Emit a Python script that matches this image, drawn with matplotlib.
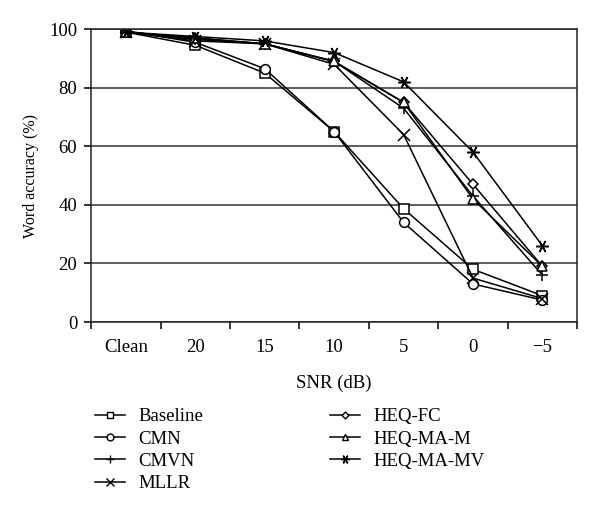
import numpy as np
import matplotlib.pyplot as plt
from matplotlib.lines import Line2D

plt.rcParams['font.family'] = ['Liberation Serif', 'DejaVu Serif']

snr = ['Clean', '20', '15', '10', '5', '0', '\u22125']

baseline = [99, 94.5, 85, 65, 38.7, 18, 9]
cmn = [99.5, 95.5, 86.5, 65, 34, 13, 7.5]
cmvn = [99, 96.5, 95, 89, 73, 43, 16]
mllr = [99, 96, 95, 88, 64, 15, 8]
heq_fc = [99, 97, 95, 89, 75, 47, 19]
heq_ma_m = [99, 97, 95, 89, 75, 42, 19]
heq_ma_mv = [99, 97.5, 96, 92, 82, 58, 26]

names = ['Baseline', 'CMN', 'CMVN', 'MLLR', 'HEQ-FC', 'HEQ-MA-M', 'HEQ-MA-MV']
series = [baseline, cmn, cmvn, mllr, heq_fc, heq_ma_m, heq_ma_mv]
markers = ['s', 'o', '+', 'x', 'D', '^', (6, 2, 90)]
msizes = [7, 7, 8, 8, 5, 7, 9]

fig = plt.figure(figsize=(6, 5.12), dpi=100)
ax = fig.add_axes([0.152, 0.371, 0.810, 0.572])

x = np.arange(len(snr))
handles = []
for vals, name, m, ms in zip(series, names, markers, msizes):
    ax.plot(x, vals, color='black', lw=1.1, marker=m, ms=ms,
            mfc='white', mec='black', mew=1.1, label=name)
    handles.append(Line2D([], [], color='black', lw=1.1, marker=m, ms=ms * 0.7,
                          mfc='white', mec='black', mew=1.0))

ax.set_xlim(-0.5, len(snr) - 0.5)
ax.set_ylim(0, 100)
ax.set_yticks(np.arange(0, 101, 20))
ax.yaxis.grid(True, color='#333333', lw=1.1)
ax.set_axisbelow(True)

ax.set_xticks(np.arange(-0.5, len(snr), 1.0))
ax.set_xticklabels([])
ax.set_xticks(x, minor=True)
ax.set_xticklabels(snr, minor=True)
ax.tick_params(axis='x', which='major', direction='out', length=5, width=1.1)
ax.tick_params(axis='x', which='minor', length=0, pad=12)
ax.tick_params(axis='y', direction='out', length=5, width=1.1, pad=5)
ax.tick_params(which='both', labelsize=13.5)
for s in ax.spines.values():
    s.set_linewidth(1.1)
    s.set_color('#222222')

ax.set_xlabel('SNR (dB)', fontsize=13.5, labelpad=14)
ax.set_ylabel('Word accuracy (%)', fontsize=11.5, labelpad=7)

fig.legend(handles, names, ncol=2, loc='upper left', bbox_to_anchor=(0.13, 0.236),
           frameon=False, fontsize=13.5, handlelength=1.6, columnspacing=6.8,
           labelspacing=0.28, handletextpad=0.7)

fig.savefig('out.png', dpi=100)
